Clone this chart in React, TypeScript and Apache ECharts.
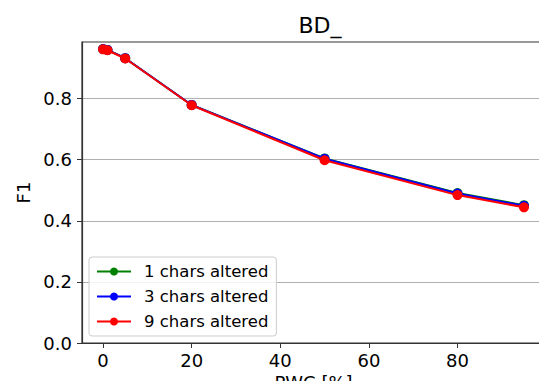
import React, { useEffect, useRef } from "react";
import * as echarts from "echarts";

const xValues = [0, 1, 5, 20, 50, 80, 95];
const series1 = [0.962, 0.959, 0.932, 0.779, 0.604, 0.491, 0.451];
const series3 = [0.962, 0.959, 0.932, 0.779, 0.603, 0.489, 0.449];
const series9 = [0.961, 0.958, 0.931, 0.778, 0.598, 0.484, 0.444];
const seriesNames = ["1 chars altered", "3 chars altered", "9 chars altered"];
const seriesColors = ["#008000", "#0000ff", "#ff0000"];
const xTicks = [0, 20, 40, 60, 80];
const yTicks = [0, 0.2, 0.4, 0.6, 0.8];

const FONT = "DejaVu Sans";

export default function App() {
  const ref = useRef<HTMLDivElement>(null);
  useEffect(() => {
    if (!ref.current) return;
    const chart = echarts.init(ref.current, null, { renderer: "svg" });
    const all = [series1, series3, series9];
    chart.setOption({
      animation: false,
      backgroundColor: "#ffffff",
      textStyle: { fontFamily: FONT },
      title: {
        text: "BD_",
        left: 315,
        textAlign: "center",
        top: 9,
        textStyle: { fontFamily: FONT, fontSize: 22, fontWeight: "normal", color: "#000" },
      },
      grid: {
        left: 82,
        right: 2,
        top: 42,
        bottom: 46,
        outerBoundsMode: "none",
        containLabel: false,
        show: true,
        borderColor: "#333",
        borderWidth: 1.2,
        backgroundColor: "transparent",
      },
      legend: {
        orient: "vertical",
        left: 89,
        top: 257,
        padding: [6, 8, 6, 7],
        itemWidth: 34,
        itemHeight: 10,
        itemGap: 8,
        backgroundColor: "rgba(255,255,255,0.85)",
        borderColor: "#cccccc",
        borderWidth: 1,
        borderRadius: 3,
        textStyle: { fontFamily: FONT, fontSize: 16.5, color: "#000", padding: [0, 0, 0, 8] },
        data: seriesNames,
      },
      xAxis: {
        type: "value",
        min: -4.75,
        max: 99.75,
        name: "PWC [%]",
        nameLocation: "middle",
        nameGap: 28,
        nameTextStyle: { fontFamily: FONT, fontSize: 18, color: "#000", verticalAlign: "top" },
        axisLine: { show: true, onZero: false, lineStyle: { color: "#333", width: 1.2 } },
        axisTick: { show: true, length: 5, customValues: xTicks, lineStyle: { color: "#333" } },
        axisLabel: {
          customValues: xTicks,
          fontFamily: FONT,
          fontSize: 18,
          color: "#000",
          margin: 8,
        },
        splitLine: { show: false },
      },
      yAxis: {
        type: "value",
        min: 0,
        max: 0.985,
        name: "F1",
        nameLocation: "middle",
        nameGap: 50,
        nameRotate: 90,
        nameTextStyle: { fontFamily: FONT, fontSize: 18, color: "#000" },
        axisLine: { show: true, onZero: false, lineStyle: { color: "#333", width: 1.2 } },
        axisTick: { show: true, length: 5, customValues: yTicks, lineStyle: { color: "#333" } },
        axisLabel: {
          customValues: yTicks,
          fontFamily: FONT,
          fontSize: 18,
          color: "#000",
          margin: 10,
          formatter: (v: number) => v.toFixed(1),
        },
        splitLine: { show: true, customValues: yTicks, lineStyle: { color: "#b0b0b0", width: 1 } },
      },
      series: seriesNames.map((name, i) => ({
        name,
        type: "line",
        data: xValues.map((x, j) => [x, all[i][j]]),
        symbol: "circle",
        symbolSize: 10,
        lineStyle: { color: seriesColors[i], width: 2 },
        itemStyle: { color: seriesColors[i] },
        z: 2 + i,
      })),
    });
    return () => chart.dispose();
  }, []);
  return <div ref={ref} style={{ width: 547, height: 389, margin: -8 }} />;
}
